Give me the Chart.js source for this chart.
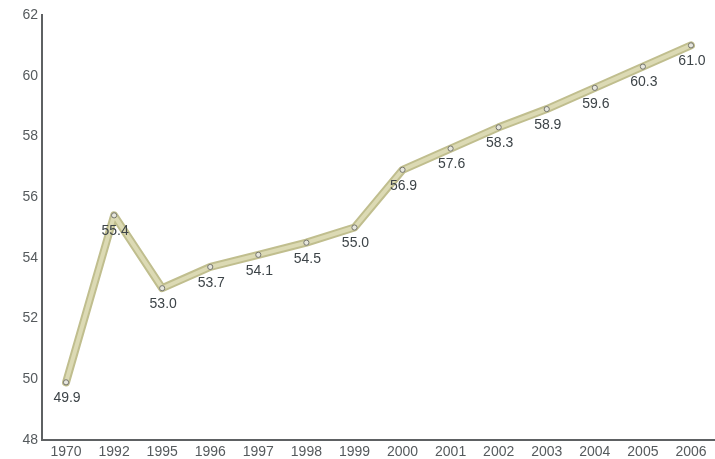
<!DOCTYPE html>
<html>
<head>
<meta charset="utf-8">
<script src="https://cdn.jsdelivr.net/npm/chart.js@4/dist/chart.umd.min.js"></script>
<style>
  html, body { margin: 0; padding: 0; background: #ffffff; }
  #wrap { width: 715px; height: 459px; position: relative; }
</style>
</head>
<body>
<div id="wrap"><canvas id="c"></canvas></div>
<script>
// Years along the horizontal axis
const years = ['1970', '1992', '1995', '1996', '1997', '1998', '1999', '2000', '2001', '2002', '2003', '2004', '2005', '2006'];
// Yearly values
const values = [49.9, 55.4, 53.0, 53.7, 54.1, 54.5, 55.0, 56.9, 57.6, 58.3, 58.9, 59.6, 60.3, 61.0];
// Vertical axis range
const yMin = 48;
const yMax = 62;
const yStep = 2;

const FONT = '"Liberation Sans", Arial, sans-serif';

// Writes each value just under its point
const valueLabels = {
  id: 'valueLabels',
  afterDatasetsDraw(chart) {
    const ctx = chart.ctx;
    const meta = chart.getDatasetMeta(2);
    ctx.save();
    ctx.font = '14px ' + FONT;
    ctx.fillStyle = '#3d4448';
    ctx.textAlign = 'center';
    ctx.textBaseline = 'middle';
    meta.data.forEach((pt, i) => {
      ctx.fillText(values[i].toFixed(1), pt.x + 1, pt.y + 16);
    });
    ctx.restore();
  }
};

const lineBase = { tension: 0, borderJoinStyle: 'round', borderCapStyle: 'round', pointRadius: 0 };

new Chart(document.getElementById('c'), {
  type: 'line',
  data: {
    labels: years,
    datasets: [
      // outer edge of the tube-like line
      Object.assign({ data: values, borderColor: '#c0be8e', borderWidth: 8, order: 3 }, lineBase),
      // lighter core
      Object.assign({ data: values, borderColor: '#dcdab4', borderWidth: 4, order: 2 }, lineBase),
      // point markers
      { data: values, showLine: false, order: 1, pointRadius: 2.6,
        pointBackgroundColor: '#e6e6de', pointBorderColor: '#76766e', pointBorderWidth: 1 }
    ]
  },
  options: {
    responsive: true,
    maintainAspectRatio: false,
    animation: false,
    layout: { autoPadding: false, padding: { top: 15, right: 0, left: 0, bottom: 0 } },
    plugins: { legend: { display: false }, tooltip: { enabled: false } },
    scales: {
      x: {
        offset: true,
        grid: { display: false, drawTicks: false },
        border: { color: '#5e6163', width: 2 },
        ticks: { color: '#555a5d', font: { size: 14, family: FONT }, padding: 4, maxRotation: 0, autoSkip: false },
        afterFit(s) { s.height = 19; s.paddingLeft = 0; s.paddingRight = 0; }
      },
      y: {
        min: yMin, max: yMax,
        grid: { display: false, drawTicks: false },
        border: { color: '#5e6163', width: 2 },
        ticks: { stepSize: yStep, color: '#555a5d', font: { size: 14, family: FONT }, padding: 4 },
        afterFit(s) { s.width = 42; s.paddingTop = 0; s.paddingBottom = 0; }
      }
    }
  },
  plugins: [valueLabels]
});
</script>
</body>
</html>
